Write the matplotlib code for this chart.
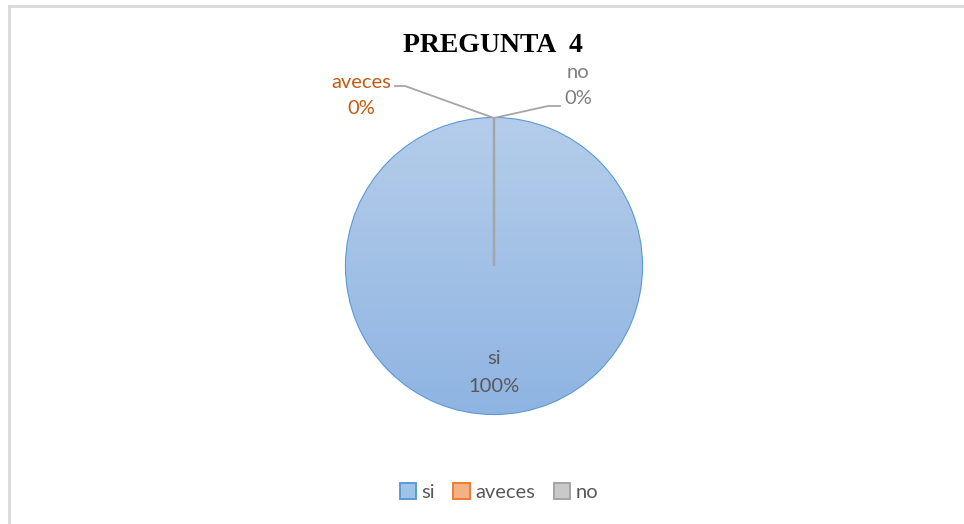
import numpy as np
import matplotlib.pyplot as plt
from matplotlib.patches import Rectangle
from matplotlib.lines import Line2D

categories = ["si", "aveces", "no"]
values = [100, 0, 0]
pct_labels = ["100%", "0%", "0%"]
title = "PREGUNTA  4"

fills = ["#a9c5e8", "#f4b183", "#c9c9c9"]
edges = ["#5b9bd5", "#ed7d31", "#a5a5a5"]
label_colors = ["#595959", "#c55a11", "#7f7f7f"]

W, H = 964, 524
cx, cy, r = 494, 266, 148

fig = plt.figure(figsize=(W / 100, H / 100), dpi=100)
ax = fig.add_axes([0, 0, 1, 1])

wedges, _ = ax.pie(values, startangle=90, counterclock=False, radius=1,
                   colors=fills,
                   wedgeprops=dict(linewidth=1.6))
wedges[0].set_edgecolor(edges[0])
# zero slices show up as a grey radial line, like the original
wedges[1].set_edgecolor("#a5a5a5")
wedges[2].set_edgecolor("#a5a5a5")
wedges[0].set_zorder(1)
wedges[1].set_zorder(3)
wedges[2].set_zorder(3)

# vertical gradient inside the "si" slice
grad = np.linspace(0, 1, 256).reshape(-1, 1)
top = np.array([0xb5, 0xcd, 0xea]) / 255
bot = np.array([0x8f, 0xb4, 0xe2]) / 255
img = top + (bot - top) * grad[..., None]
im = ax.imshow(img, extent=(-1, 1, -1, 1), origin="upper", zorder=1.5,
               aspect="auto")
im.set_clip_path(wedges[0])

ax.set_xlim(-cx / r, (W - cx) / r)
ax.set_ylim(-(H - cy) / r, cy / r)
ax.set_aspect("auto")
ax.axis("off")

def px(x, y):
    return ((x - cx) / r, (cy - y) / r)

fs = 14.5

# si label inside
ax.text(*px(494, 359), categories[0], ha="center", va="center",
        fontsize=fs, color=label_colors[0], family="Lato")
ax.text(*px(494, 386), pct_labels[0], ha="center", va="center",
        fontsize=fs, color=label_colors[0], family="Lato")

# aveces label with leader line
ang = np.deg2rad((wedges[1].theta1 + wedges[1].theta2) / 2)
tip = (np.cos(ang), np.sin(ang))
ax.plot([tip[0], px(405, 86)[0], px(395, 86)[0]],
        [tip[1], px(405, 86)[1], px(395, 86)[1]],
        color="#a6a6a6", lw=1.3, zorder=4)
ax.text(*px(361, 82), categories[1], ha="center", va="center",
        fontsize=fs, color=label_colors[1], family="Lato")
ax.text(*px(361, 108), pct_labels[1], ha="center", va="center",
        fontsize=fs, color=label_colors[1], family="Lato")

# no label with leader line
ang2 = np.deg2rad((wedges[2].theta1 + wedges[2].theta2) / 2)
tip2 = (np.cos(ang2), np.sin(ang2))
ax.plot([tip2[0], px(548, 106)[0], px(560, 106)[0]],
        [tip2[1], px(548, 106)[1], px(560, 106)[1]],
        color="#a6a6a6", lw=1.3, zorder=4)
ax.text(*px(578, 72), categories[2], ha="center", va="center",
        fontsize=fs, color=label_colors[2], family="Lato")
ax.text(*px(578, 98), pct_labels[2], ha="center", va="center",
        fontsize=fs, color=label_colors[2], family="Lato")

fig.text(493 / W, 1 - 46 / H, title, ha="center", va="center",
         fontsize=20, fontweight="bold", family="Liberation Serif")

# legend
handles = [Rectangle((0, 0), 1, 1, facecolor=f, edgecolor=e, lw=1.4)
           for f, e in zip(["#9dc3e6", "#f4b183", "#c9c9c9"], edges)]
leg = fig.legend(handles, categories, loc="center", ncol=3,
                 bbox_to_anchor=(499 / W, 1 - 492 / H), frameon=False,
                 prop=dict(family="Lato", size=14.5), labelcolor="#595959",
                 handlelength=0.8, handleheight=0.8, handletextpad=0.3,
                 columnspacing=0.9)

# chart frame
fig.add_artist(Line2D([9 / W, 9 / W], [0, 1 - 6 / H], color="#d9d9d9", lw=2))
fig.add_artist(Line2D([9 / W, 1], [1 - 6 / H, 1 - 6 / H], color="#d9d9d9", lw=2))

fig.savefig("out.png", dpi=100)
